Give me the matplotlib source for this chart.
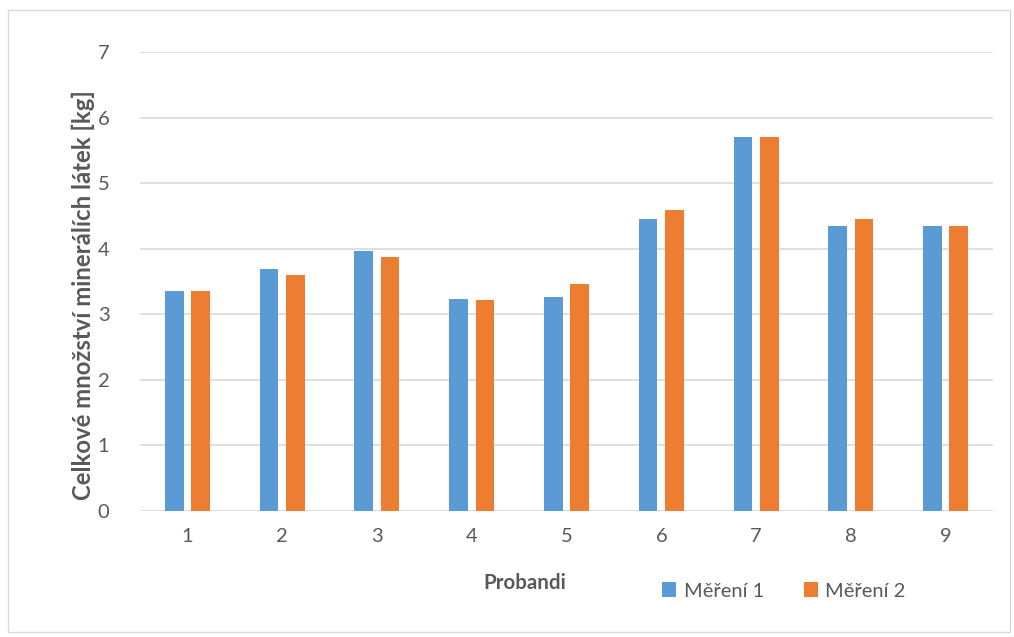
import matplotlib
matplotlib.use("Agg")
import matplotlib.pyplot as plt
from matplotlib.patches import Rectangle
import numpy as np

plt.rcParams['font.family'] = ['Lato', 'DejaVu Sans']

categories = ["1", "2", "3", "4", "5", "6", "7", "8", "9"]
mereni_1 = [3.36, 3.69, 3.97, 3.23, 3.26, 4.46, 5.71, 4.35, 4.35]
mereni_2 = [3.36, 3.60, 3.87, 3.22, 3.46, 4.59, 5.71, 4.46, 4.34]
series_names = ["Měření 1", "Měření 2"]
y_ticks = [0, 1, 2, 3, 4, 5, 6, 7]

blue = "#5B9BD5"
orange = "#ED7D31"
text_gray = "#595959"
grid_gray = "#D9D9D9"

W, H = 1014, 637
fig = plt.figure(figsize=(W / 100, H / 100), dpi=100)

# light frame around the chart area
fig.add_artist(Rectangle((8 / W, 1 - 632 / H), (1010 - 8) / W, (632 - 10) / H,
                         transform=fig.transFigure, fill=False,
                         edgecolor=grid_gray, linewidth=1.0))

ax = fig.add_axes([140 / W, 1 - 511 / H, (993 - 140) / W, (511 - 52) / H])

x = np.arange(1, len(categories) + 1)
bw = 0.197
off = 0.139
ax.bar(x - off, mereni_1, width=bw, color=blue, label=series_names[0], zorder=3)
ax.bar(x + off, mereni_2, width=bw, color=orange, label=series_names[1], zorder=3)

ax.set_xlim(0.5, len(categories) + 0.5)
ax.set_ylim(0, 7)
ax.set_yticks(y_ticks)
ax.set_xticks(x)
ax.set_xticklabels(categories)
ax.yaxis.grid(True, color=grid_gray, linewidth=1.2, zorder=0)
ax.set_axisbelow(True)
for s in ax.spines.values():
    s.set_visible(False)
ax.tick_params(axis='both', length=0, labelsize=14.5, colors=text_gray)
ax.tick_params(axis='y', pad=22)
ax.tick_params(axis='x', pad=12)

ax.set_ylabel("Celkové množství minerálích látek [kg]", fontsize=17.2,
              fontweight='bold', color=text_gray)
ax.yaxis.set_label_coords(-45 / (993 - 140), 0.47)

fig.text(525 / W, 1 - 583 / H, "Probandi", fontsize=14.8, fontweight='bold',
         color=text_gray, ha='center', va='center')

leg = fig.legend(loc='center', bbox_to_anchor=(784 / W, 1 - 591 / H),
                 ncol=2, frameon=False, fontsize=14.5, handlelength=0.7,
                 handleheight=0.7, handletextpad=0.35, columnspacing=2.0,
                 labelcolor=text_gray)

fig.savefig("out.png", dpi=100)
